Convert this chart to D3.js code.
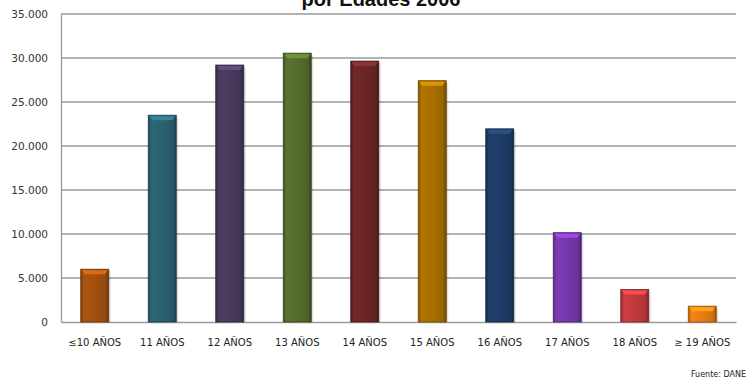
<!DOCTYPE html>
<html><head><meta charset="utf-8">
<script src="https://cdn.jsdelivr.net/npm/d3@7"></script>
<style>body{margin:0;background:#fff}svg{display:block}</style>
</head><body><svg id="c" width="749" height="379"></svg>
<script>
const categories = ["≤10 AÑOS","11 AÑOS","12 AÑOS","13 AÑOS","14 AÑOS","15 AÑOS","16 AÑOS","17 AÑOS","18 AÑOS","≥ 19 AÑOS"];
const values = [6000, 23500, 29200, 30550, 29650, 27420, 21950, 10150, 3700, 1800];
const colors = ["#A4500F","#2B6171","#4A3A5E","#566C2C","#6C2626","#A86F00","#1E3C66","#7638AC","#C23A3C","#EC7C12"];
const yTicks = [0,5000,10000,15000,20000,25000,30000,35000];
const titleText = "por Edades 2006";
const sourceText = "Fuente: DANE";

const svg = d3.select("#c");
const m = {l:61, r:736, t:14, b:322};
const x = d3.scaleBand().domain(categories).range([m.l, m.r]).paddingInner(0.585).paddingOuter(0.2925);
const y = d3.scaleLinear().domain([0,35000]).range([m.b, m.t]);
const fmt = v => v === 0 ? "0" : d3.format(",")(v).replace(/,/g,".");

const defs = svg.append("defs");
colors.forEach((c,i)=>{
  const g = defs.append("linearGradient").attr("id","g"+i).attr("x1","0").attr("x2","1").attr("y1","0").attr("y2","0");
  const base = d3.color(c);
  g.append("stop").attr("offset","0").attr("stop-color", base.darker(0.8));
  g.append("stop").attr("offset","0.12").attr("stop-color", base.brighter(0.15));
  g.append("stop").attr("offset","0.5").attr("stop-color", base);
  g.append("stop").attr("offset","0.88").attr("stop-color", base.darker(0.3));
  g.append("stop").attr("offset","1").attr("stop-color", base.darker(1.2));
});

// gridlines
svg.append("g").selectAll("line").data(yTicks.filter(t=>t>0)).join("line")
  .attr("x1", m.l).attr("x2", m.r).attr("y1", d=>y(d)).attr("y2", d=>y(d))
  .attr("stroke","#9a9a9a").attr("stroke-width",1.3);

// y axis
const ya = svg.append("g").attr("transform",`translate(${m.l},0)`)
  .call(d3.axisLeft(y).tickValues(yTicks).tickFormat(fmt).tickSize(0).tickPadding(13));
ya.select(".domain").attr("stroke","#9a9a9a").attr("stroke-width",1.3);
ya.selectAll("text").attr("font-family","DejaVu Sans").attr("font-size","10.5px").attr("fill","#333");

// x axis
const xa = svg.append("g").attr("transform",`translate(0,${m.b})`)
  .call(d3.axisBottom(x).tickSize(0).tickPadding(17));
xa.select(".domain").attr("stroke","#9a9a9a").attr("stroke-width",1.3);
xa.selectAll("text").attr("font-family","DejaVu Sans").attr("font-size","10px").attr("fill","#222");

// bars
const bars = svg.append("g").selectAll("g").data(categories).join("g");
bars.append("rect")
  .attr("x", d=>x(d)+2).attr("y", (d,i)=>y(values[i])+2)
  .attr("width", x.bandwidth()).attr("height", (d,i)=>m.b - y(values[i]) - 2)
  .attr("fill","#000").attr("opacity",0.12);
bars.append("rect")
  .attr("x", d=>x(d)).attr("y", (d,i)=>y(values[i]))
  .attr("width", x.bandwidth()).attr("height", (d,i)=>m.b - y(values[i]))
  .attr("fill", (d,i)=>`url(#g${i})`)
  .attr("stroke", (d,i)=>d3.color(colors[i]).darker(1.3)).attr("stroke-width",0.8);
bars.append("path")
  .attr("d", (d,i)=>{
    const x0 = x(d), w = x.bandwidth(), t = y(values[i]);
    return `M${x0+1},${t+1}H${x0+w-1}L${x0+w-4},${t+5}H${x0+4}Z`;
  })
  .attr("fill", (d,i)=>d3.color(colors[i]).brighter(0.9)).attr("opacity",0.9);

// title (cut at the top edge as in the reference)
svg.append("text").attr("x", 381).attr("y", 6).attr("text-anchor","middle")
  .attr("font-family","Liberation Sans").attr("font-weight","bold").attr("font-size","20px").attr("fill","#111")
  .text(titleText);

svg.append("text").attr("x", 746).attr("y", 377).attr("text-anchor","end")
  .attr("font-family","DejaVu Sans").attr("font-size","8px").attr("fill","#222")
  .text(sourceText);
</script></body></html>
